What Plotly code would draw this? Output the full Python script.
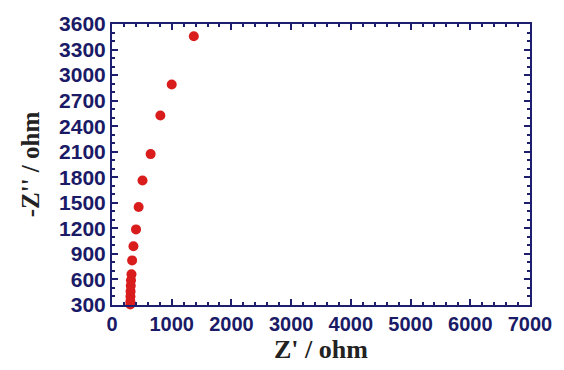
import plotly.graph_objects as go

z_real = [1370, 1000, 810, 647, 511, 446, 402, 359, 337, 326, 318, 314, 311, 309, 308, 307]
z_imag = [3457, 2890, 2526, 2072, 1763, 1450, 1188, 989, 824, 660, 590, 525, 460, 400, 345, 305]

x_ticks = [0, 1000, 2000, 3000, 4000, 5000, 6000, 7000]
y_ticks = [300, 600, 900, 1200, 1500, 1800, 2100, 2400, 2700, 3000, 3300, 3600]

navy = "#1e1e6e"
label_color = "#1a1a66"

fig = go.Figure()
fig.add_trace(go.Scatter(
    x=z_real, y=z_imag, mode="markers",
    marker=dict(size=10, color="#d91c1c", line=dict(width=0)),
    showlegend=False, cliponaxis=False,
))

axis_common = dict(
    showline=True, linecolor=navy, linewidth=2, mirror="ticks",
    ticks="inside", ticklen=6, tickwidth=1.5, tickcolor=navy,
    showgrid=False, zeroline=False,
)

fig.update_xaxes(
    range=[0, 7000], tickvals=x_ticks, ticktext=[str(v) for v in x_ticks],
    tickfont=dict(family="Liberation Sans, Arial", size=20, color=label_color, weight="bold"),
    ticklabeloverflow="allow",
    minor=dict(dtick=200, ticklen=3, tickcolor=navy, ticks="inside"),
    title=dict(text="Z' / ohm", standoff=5,
               font=dict(family="Liberation Serif, Times New Roman", size=26, color="#222222", weight="bold")),
    **axis_common,
)
fig.update_yaxes(
    range=[300, 3600], tickvals=y_ticks, ticktext=[str(v) for v in y_ticks],
    tickfont=dict(family="Liberation Sans, Arial", size=21, color=label_color, weight="bold"),
    minor=dict(dtick=100, ticklen=3, tickcolor=navy, ticks="inside"),
    title=dict(text="-Z'' / ohm", standoff=12,
               font=dict(family="Liberation Serif, Times New Roman", size=25, color="#222222", weight="bold")),
    **axis_common,
)

fig.update_layout(
    width=564, height=370,
    margin=dict(l=112, r=23, t=24, b=65),
    paper_bgcolor="white", plot_bgcolor="white",
)

fig.write_html("out.html")
